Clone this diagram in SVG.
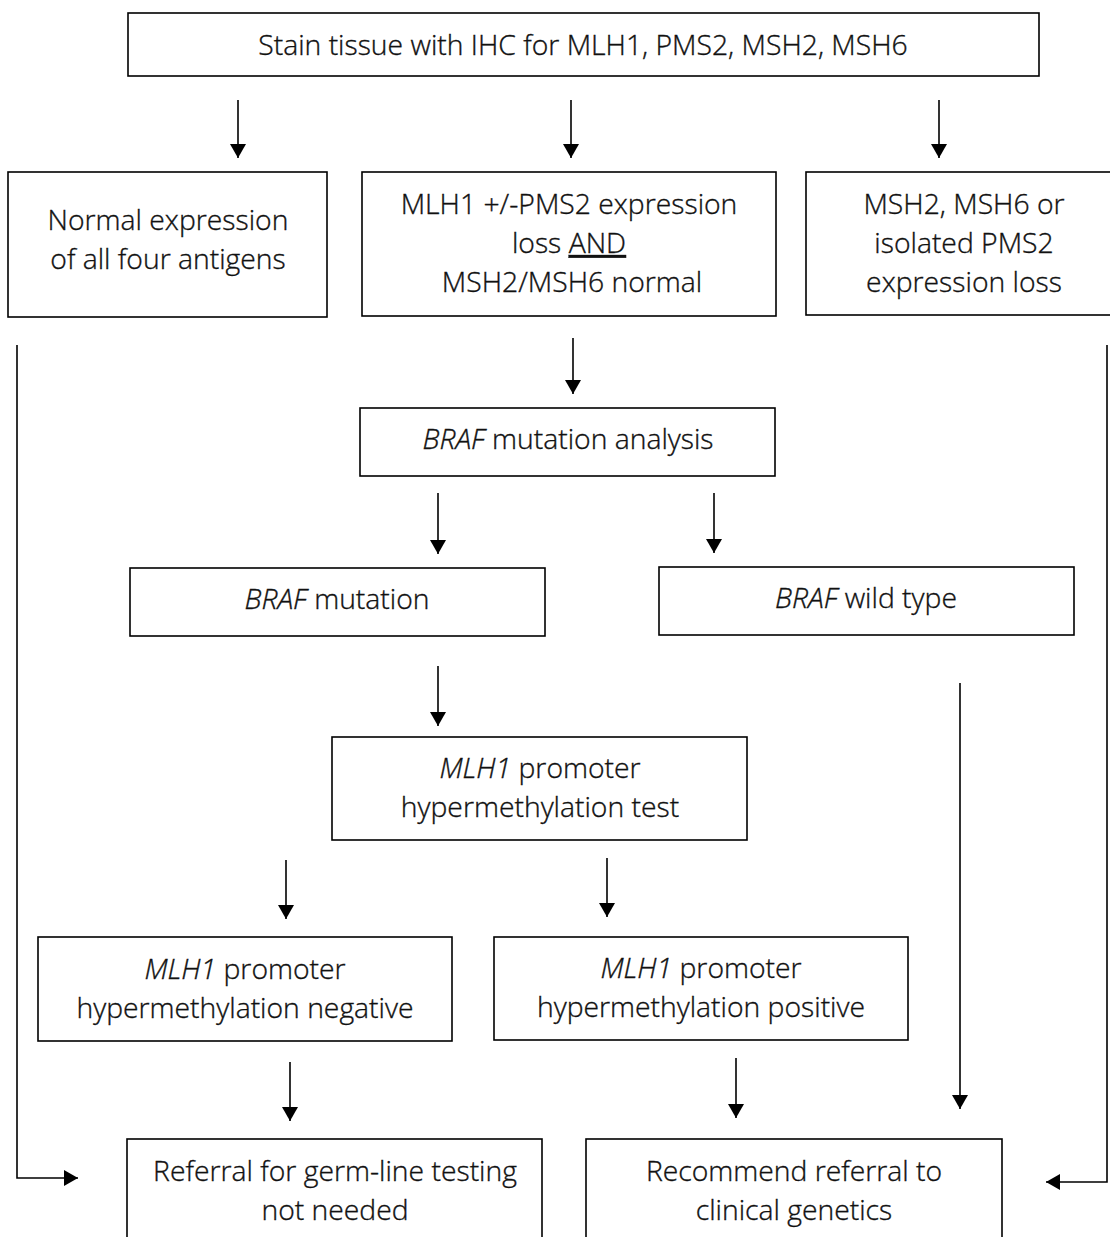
<svg xmlns="http://www.w3.org/2000/svg" width="1110" height="1237" viewBox="0 0 1110 1237">
<style>
.box{fill:#fff;stroke:#000;stroke-width:1.6}
.t{font-family:"Open Sans","Noto Sans","Liberation Sans",sans-serif;font-weight:300;font-size:28.3px;fill:#111;stroke:#111;stroke-width:0.35;text-anchor:middle}
.i{font-style:italic}
.c{stroke:#000;stroke-width:1.6;fill:none}
</style>
<defs>
<marker id="ah" viewBox="0 0 14 16" refX="14" refY="8" markerWidth="14" markerHeight="16" markerUnits="userSpaceOnUse" orient="auto">
<path d="M0,0 L14,8 L0,16 Z" fill="#000"/>
</marker>
</defs>
<rect width="1110" height="1237" fill="#fff"/>
<g id="connectors">
<line class="c" x1="238" y1="100" x2="238" y2="158" marker-end="url(#ah)"/>
<line class="c" x1="571" y1="100" x2="571" y2="158" marker-end="url(#ah)"/>
<line class="c" x1="939" y1="100" x2="939" y2="158" marker-end="url(#ah)"/>
<polyline class="c" points="17,345 17,1178 78,1178" marker-end="url(#ah)"/>
<polyline class="c" points="1107,345 1107,1182 1046,1182" marker-end="url(#ah)"/>
<line class="c" x1="573" y1="338" x2="573" y2="394" marker-end="url(#ah)"/>
<line class="c" x1="438" y1="493" x2="438" y2="554" marker-end="url(#ah)"/>
<line class="c" x1="714" y1="493" x2="714" y2="553" marker-end="url(#ah)"/>
<line class="c" x1="438" y1="666" x2="438" y2="726" marker-end="url(#ah)"/>
<line class="c" x1="286" y1="860" x2="286" y2="919" marker-end="url(#ah)"/>
<line class="c" x1="607" y1="858" x2="607" y2="917" marker-end="url(#ah)"/>
<line class="c" x1="960" y1="683" x2="960" y2="1109" marker-end="url(#ah)"/>
<line class="c" x1="290" y1="1062" x2="290" y2="1121" marker-end="url(#ah)"/>
<line class="c" x1="736" y1="1058" x2="736" y2="1118" marker-end="url(#ah)"/>
</g>
<g id="n-stain">
<rect class="box" x="128" y="13" width="911" height="63"/>
<text class="t" x="583" y="55">Stain tissue with IHC for MLH1, PMS2, MSH2, MSH6</text>
</g>
<g id="n-normal">
<rect class="box" x="8" y="172" width="319" height="145"/>
<text class="t" x="168" y="230">Normal expression</text>
<text class="t" x="168" y="269">of all four antigens</text>
</g>
<g id="n-mlh1loss">
<rect class="box" x="362" y="172" width="414" height="144"/>
<text class="t" x="569" y="214">MLH1 +/-PMS2 expression</text>
<text class="t" x="569" y="253">loss <tspan text-decoration="underline">AND</tspan></text>
<text class="t" x="572" y="292">MSH2/MSH6 normal</text>
</g>
<g id="n-msh">
<rect class="box" x="806" y="172" width="310" height="143"/>
<text class="t" x="964" y="214">MSH2, MSH6 or</text>
<text class="t" x="964" y="253">isolated PMS2</text>
<text class="t" x="964" y="292">expression loss</text>
</g>
<g id="n-braf">
<rect class="box" x="360" y="408" width="415" height="68"/>
<text class="t" x="568" y="449"><tspan class="i">BRAF</tspan> mutation analysis</text>
</g>
<g id="n-brafmut">
<rect class="box" x="130" y="568" width="415" height="68"/>
<text class="t" x="337" y="609"><tspan class="i">BRAF</tspan> mutation</text>
</g>
<g id="n-brafwt">
<rect class="box" x="659" y="567" width="415" height="68"/>
<text class="t" x="866" y="608"><tspan class="i">BRAF</tspan> wild type</text>
</g>
<g id="n-mlh1test">
<rect class="box" x="332" y="737" width="415" height="103"/>
<text class="t" x="540" y="778"><tspan class="i">MLH1</tspan> promoter</text>
<text class="t" x="540" y="817">hypermethylation test</text>
</g>
<g id="n-neg">
<rect class="box" x="38" y="937" width="414" height="104"/>
<text class="t" x="245" y="979"><tspan class="i">MLH1</tspan> promoter</text>
<text class="t" x="245" y="1018">hypermethylation negative</text>
</g>
<g id="n-pos">
<rect class="box" x="494" y="937" width="414" height="103"/>
<text class="t" x="701" y="978"><tspan class="i">MLH1</tspan> promoter</text>
<text class="t" x="701" y="1017">hypermethylation positive</text>
</g>
<g id="n-notneeded">
<rect class="box" x="127" y="1139" width="415" height="120"/>
<text class="t" x="335" y="1181">Referral for germ-line testing</text>
<text class="t" x="335" y="1220">not needed</text>
</g>
<g id="n-refer">
<rect class="box" x="586" y="1139" width="416" height="120"/>
<text class="t" x="794" y="1181">Recommend referral to</text>
<text class="t" x="794" y="1220">clinical genetics</text>
</g>
</svg>
